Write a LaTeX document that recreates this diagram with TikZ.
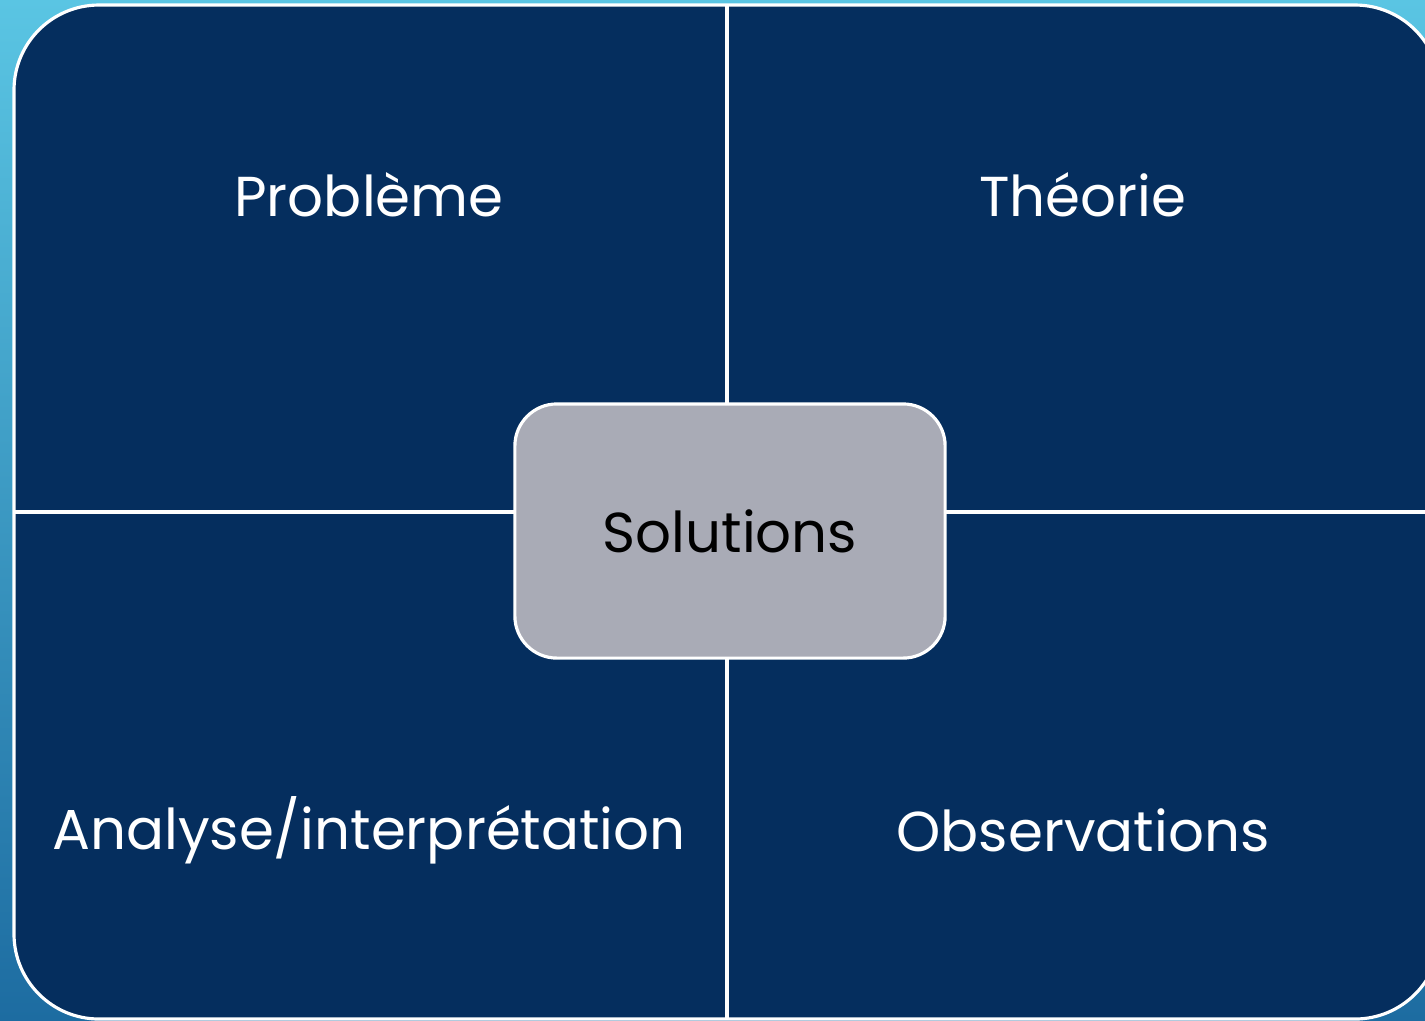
\documentclass[tikz,border=0pt]{standalone}
\usepackage{fontspec}
\setmainfont{Poppins}
\usetikzlibrary{positioning}
\definecolor{bgTop}{HTML}{5AC5E3}
\definecolor{bgBottom}{HTML}{1D6CA1}
\definecolor{matrixNavy}{HTML}{052E5E}
\definecolor{solGray}{HTML}{A9ABB6}
\tikzset{
  quadText/.style={text=white, inner sep=0pt, font=\fontsize{16}{18}\selectfont},
  solBox/.style={draw=white, line width=0.9pt, fill=solGray, rounded corners=0.42cm,
    minimum width=4.3cm, minimum height=2.54cm, font=\fontsize{16}{18}\selectfont},
  splitLine/.style={white, line width=0.9pt}
}

\begin{document}
\begin{tikzpicture}[x=0.01cm, y=-0.01cm]
  \clip (0,0) rectangle (1425,1020);
  \shade[top color=bgTop, bottom color=bgBottom] (0,0) rectangle (1425,1020);

  % the four quadrants
  \filldraw[fill=matrixNavy, draw=white, line width=0.9pt, rounded corners=0.85cm] (14,5) rectangle (1440,1019);
  \draw[splitLine] (727,5) -- (727,1019);
  \draw[splitLine] (14,512) -- (1440,512);

  \node[quadText] (prob) at (369,195) {Problème};
  \node[quadText] (theo) at (1083,195) {Théorie};
  \node[quadText] (anal) at (369,830) {Analyse/interprétation};
  \node[quadText] (obs) at (1083,830) {Observations};

  \node[solBox] (sol) at (730,531) {Solutions};
\end{tikzpicture}
\end{document}
